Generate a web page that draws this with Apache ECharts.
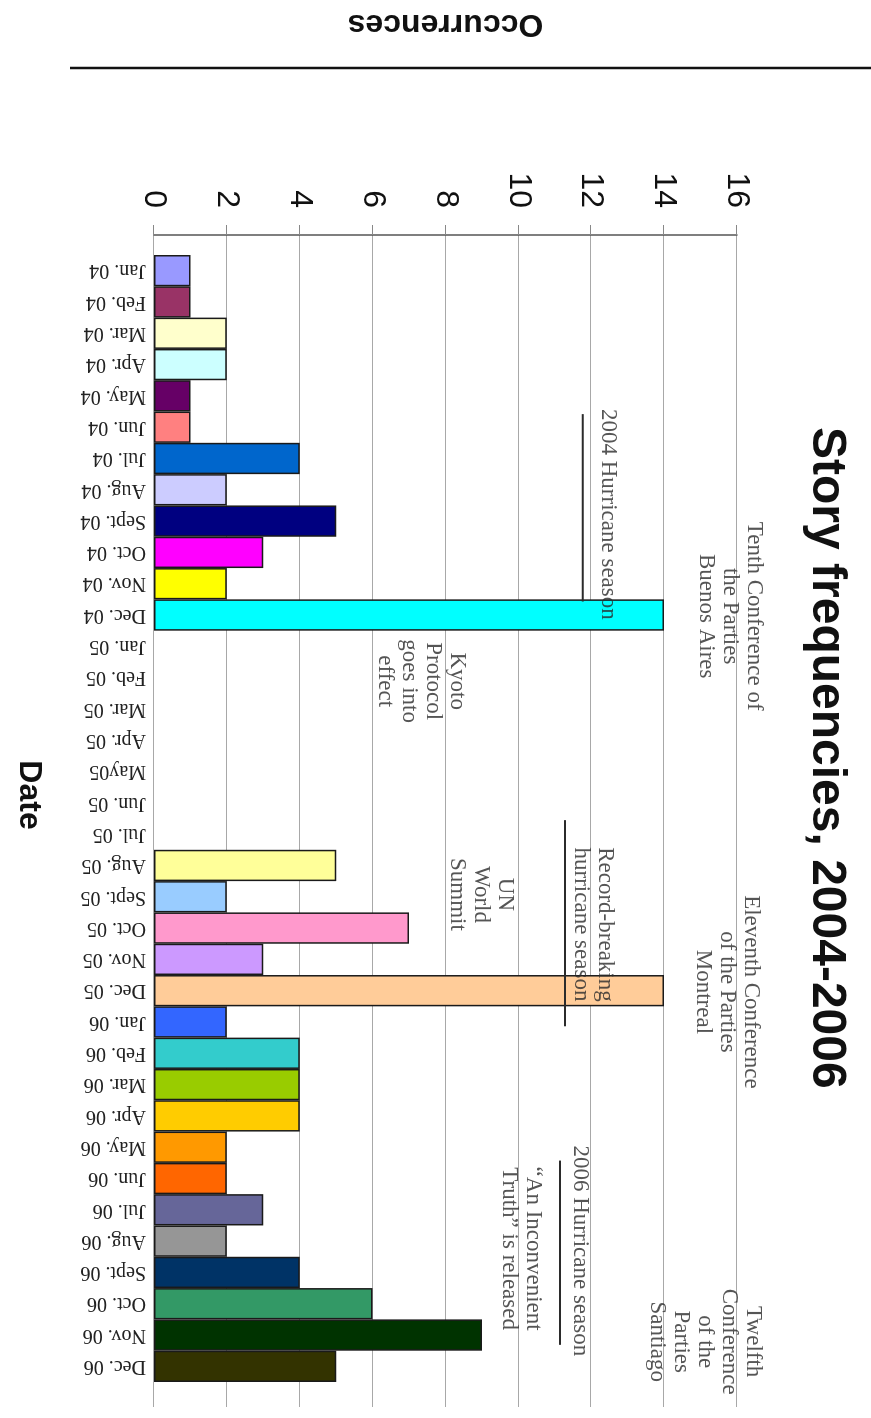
<!DOCTYPE html>
<html>
<head>
<meta charset="utf-8">
<script src="https://cdn.jsdelivr.net/npm/echarts@6/dist/echarts.min.js"></script>
<style>
html, body { margin: 0; padding: 0; overflow: hidden; background: #fff; width: 871px; height: 1418px; }
/* chart is laid out upright (1418 x 871) and turned a quarter clockwise like the scan */
#main { position: absolute; left: 0; top: 0; width: 1418px; height: 871px;
        transform-origin: 0 0; transform: translate(871px, 0) rotate(90deg); }
</style>
</head>
<body>
<div id="main"></div>
<script>
var months = ['Jan. 04','Feb. 04','Mar. 04','Apr. 04','May. 04','Jun. 04','Jul. 04','Aug. 04','Sept. 04','Oct. 04','Nov. 04','Dec. 04',
              'Jan. 05','Feb. 05','Mar. 05','Apr. 05','May05','Jun. 05','Jul. 05','Aug. 05','Sept. 05','Oct. 05','Nov. 05','Dec. 05',
              'Jan. 06','Feb. 06','Mar. 06','Apr. 06','May. 06','Jun. 06','Jul. 06','Aug. 06','Sept. 06','Oct. 06','Nov. 06','Dec. 06'];
var counts = [1,1,2,2,1,1,4,2,5,3,2,14,
              0,0,0,0,0,0,0,5,2,7,3,14,
              2,4,4,4,2,2,3,2,4,6,9,5];
var barColors = ['#9999ff','#993366','#ffffcc','#ccffff','#660066','#ff8080','#0066cc','#ccccff','#000080','#ff00ff','#ffff00','#00ffff',
                 '#ffffff','#ffffff','#ffffff','#ffffff','#ffffff','#ffffff','#ffffff','#ffff99','#99ccff','#ff99cc','#cc99ff','#ffcc99',
                 '#3366ff','#33cccc','#99cc00','#ffcc00','#ff9900','#ff6600','#666699','#969696','#003366','#339966','#003300','#333300'];

// event notes: month position (0 = start of Jan. 04) and height in occurrences
var eventTexts = ['Tenth Conference of\nthe Parties\nBuenos Aires', '2004 Hurricane season', 'Kyoto\nProtocol\ngoes into\neffect',
                  'UN\nWorld\nSummit', 'Record-breaking\nhurricane season', 'Eleventh Conference\nof the Parties\nMontreal',
                  '2006 Hurricane season', '\u201cAn Inconvenient\nTruth\u201d is released', 'Twelfth\nConference\nof the\nParties\nSantiago'];
var eventMonths = [11.47, 8.21, 13.55, 20.38, 21.34, 23.5, 31.79, 31.72, 34.7];
var eventLevels = [15.81, 12.46, 7.33, 8.97, 12.06, 15.73, 11.69, 10.06, 15.12];

// hurricane season brackets
var seasonStarts = [5, 18, 28.9];
var seasonEnds = [11, 24.6, 34.8];
var seasonLevels = [11.77, 11.28, 11.14];

var chart = echarts.init(document.getElementById('main'));

var barData = counts.map(function (v, i) {
    return {
        value: v,
        itemStyle: { color: barColors[i], borderWidth: v ? 1.5 : 0 }
    };
});

var seasonSeries = seasonStarts.map(function (s, i) {
    return {
        type: 'line',
        xAxisIndex: 0,
        yAxisIndex: 0,
        silent: true,
        symbol: 'none',
        lineStyle: { color: '#2b2b2b', width: 2 },
        data: [[s, seasonLevels[i]], [seasonEnds[i], seasonLevels[i]]]
    };
});

var option = {
    backgroundColor: '#fff',
    animation: false,
    title: {
        text: 'Story frequencies, 2004-2006',
        left: 422,
        top: 16,
        textStyle: { fontFamily: 'Liberation Sans', fontSize: 48, fontWeight: 'bold', color: '#111' }
    },
    grid: [
        { left: 232, right: 11, top: 134, bottom: 154 },
        { left: 255, right: 36, top: 134, bottom: 154 }
    ],
    xAxis: [
        { gridIndex: 0, type: 'value', min: -0.735, max: 36.79, show: false },
        {
            gridIndex: 1,
            type: 'category',
            data: months,
            axisLine: { show: false },
            axisTick: { show: false },
            axisLabel: {
                interval: 0,
                rotate: -90,
                margin: 8,
                fontFamily: 'Liberation Serif',
                fontSize: 20,
                color: '#222'
            },
            name: 'Date',
            nameLocation: 'middle',
            nameGap: 109,
            nameTextStyle: { fontFamily: 'Liberation Sans', fontSize: 32, fontWeight: 'bold', color: '#111', padding: [0, 47, 0, 0] }
        }
    ],
    yAxis: [
        {
            gridIndex: 0,
            type: 'value',
            min: 0,
            max: 16,
            interval: 2,
            axisLine: { show: true, onZero: false, lineStyle: { color: '#555', width: 1.5 } },
            axisTick: { show: true, length: 10, lineStyle: { color: '#888' } },
            axisLabel: { margin: 27, fontFamily: 'Liberation Sans', fontSize: 32, color: '#111' },
            splitLine: { show: true, lineStyle: { color: '#a8a8a8', width: 1 } },
            name: 'Occurrences',
            nameLocation: 'middle',
            nameRotate: -90,
            nameGap: 195,
            nameTextStyle: { fontFamily: 'Liberation Sans', fontSize: 32, fontWeight: 'bold', color: '#111' }
        },
        { gridIndex: 1, type: 'value', min: 0, max: 16, show: false }
    ],
    graphic: [{
        type: 'line',
        silent: true,
        shape: { x1: 68, y1: 0, x2: 68, y2: 801 },
        style: { stroke: '#111', lineWidth: 2.5 }
    }],
    series: [{
        type: 'bar',
        xAxisIndex: 1,
        yAxisIndex: 1,
        silent: true,
        barCategoryGap: '0%',
        itemStyle: { borderColor: '#1a1a1a', borderWidth: 1.5 },
        data: barData
    }, {
        type: 'scatter',
        xAxisIndex: 0,
        yAxisIndex: 0,
        silent: true,
        symbolSize: 1,
        itemStyle: { color: 'rgba(0,0,0,0)' },
        label: {
            show: true,
            position: 'inside',
            align: 'center',
            verticalAlign: 'middle',
            fontFamily: 'Liberation Serif',
            fontSize: 23,
            lineHeight: 24,
            color: '#2a2a2a',
            formatter: function (p) { return p.name; }
        },
        data: eventTexts.map(function (t, i) {
            return { name: t, value: [eventMonths[i], eventLevels[i]] };
        })
    }].concat(seasonSeries)
};

chart.setOption(option);

window.onresize = function () {
    chart.resize();
};
</script>
</body>
</html>
